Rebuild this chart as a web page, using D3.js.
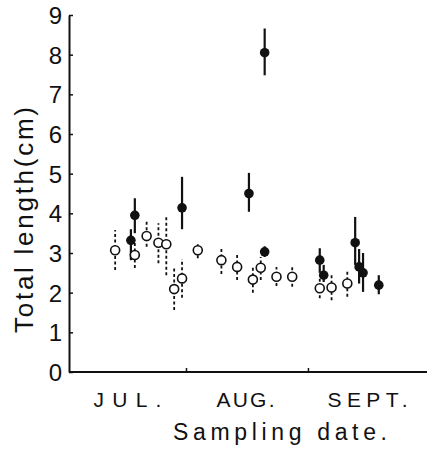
<!DOCTYPE html>
<html>
<head>
<meta charset="utf-8">
<script src="https://cdn.jsdelivr.net/npm/d3@7"></script>
<style>
  body { margin: 0; background: #fff; }
  svg { display: block; }
  text { font-family: "Liberation Sans", Arial, sans-serif; fill: #111; }
</style>
</head>
<body>
<script>
// open circles (dashed bars)
const openDates = ["07-14", "07-19", "07-22", "07-25", "07-27", "07-29", "07-31", "08-04", "08-10",
                   "08-14", "08-18", "08-20", "08-24", "08-28", "09-04", "09-07", "09-11"];
const openMean = [3.07, 2.95, 3.43, 3.26, 3.22, 2.09, 2.36, 3.07, 2.82, 2.65, 2.33, 2.63, 2.40, 2.40, 2.11, 2.13, 2.23];
const openLow  = [2.57, 2.62, 3.16, 2.74, 2.44, 1.56, 1.87, 2.87, 2.47, 2.32, 2.00, 2.32, 2.17, 2.15, 1.86, 1.81, 1.90];
const openHigh = [3.58, 3.25, 3.79, 3.75, 3.91, 2.62, 2.85, 3.28, 3.12, 2.95, 2.65, 2.90, 2.65, 2.65, 2.35, 2.47, 2.57];

// filled circles (solid bars)
const filledDates = ["07-18", "07-19", "07-31", "08-17", "08-21", "08-21", "09-04", "09-05", "09-13", "09-14", "09-15", "09-19"];
const filledMean = [3.32, 3.95, 4.14, 4.50, 8.05, 3.03, 2.82, 2.44, 3.26, 2.65, 2.50, 2.19];
const filledLow  = [2.82, 3.50, 3.60, 4.04, 7.48, 2.90, 2.50, 2.27, 2.70, 2.23, 2.02, 1.96];
const filledHigh = [3.60, 4.38, 4.92, 5.02, 8.66, 3.17, 3.12, 2.70, 3.91, 3.10, 3.00, 2.44];

const monthStarts = ["08-01", "09-01"];
const monthMids = ["07-17", "08-16", "09-16"];
const monthNames = ["JUL.", "AUG.", "SEPT."];
const monthWidths = [68, 58, 80];
const yTicks = [0, 1, 2, 3, 4, 5, 6, 7, 8, 9];

const width = 433, height = 455;
const parse = d3.timeParse("%m-%d");

const x = d3.scaleTime()
    .domain([parse("07-01"), parse("10-01")])
    .range([64, 426]);
const y = d3.scaleLinear()
    .domain([0, 9])
    .range([372, 15]);

const axisX = 69;

const svg = d3.select("body").append("svg")
    .attr("width", width)
    .attr("height", height);

// y axis
const gy = svg.append("g")
    .attr("transform", "translate(" + axisX + ",0)")
    .call(d3.axisLeft(y).tickValues(yTicks).tickSizeInner(-4).tickSizeOuter(0).tickPadding(7));
gy.select(".domain").attr("stroke", "#111").attr("stroke-width", 2);
gy.selectAll(".tick line").attr("stroke", "#111").attr("stroke-width", 1.5);
gy.selectAll(".tick text")
    .style("font-size", "24px")
    .attr("dy", "0.36em");

// x axis line + month-start ticks
svg.append("line")
    .attr("x1", axisX).attr("x2", 427)
    .attr("y1", y(0)).attr("y2", y(0))
    .attr("stroke", "#111").attr("stroke-width", 2);

const gx = svg.append("g")
    .attr("transform", "translate(0," + y(0) + ")")
    .call(d3.axisBottom(x).tickValues(monthStarts.map(parse)).tickSizeInner(-4).tickSizeOuter(0).tickFormat(""));
gx.select(".domain").remove();
gx.selectAll(".tick line").attr("stroke", "#111").attr("stroke-width", 1.5);

// month labels
const gm = svg.append("g")
    .attr("transform", "translate(0," + y(0) + ")")
    .call(d3.axisBottom(x).tickValues(monthMids.map(parse)).tickSize(0).tickPadding(20)
        .tickFormat(function(d, i) { return monthNames[i]; }));
gm.select(".domain").remove();
gm.selectAll(".tick text")
    .style("font-size", "21px")
    .attr("textLength", function(d, i) { return monthWidths[i]; })
    .attr("lengthAdjust", "spacing");

// axis titles
svg.append("text")
    .attr("x", 280).attr("y", 440)
    .attr("text-anchor", "middle")
    .style("font-size", "23px")
    .attr("textLength", 214)
    .attr("lengthAdjust", "spacing")
    .text("Sampling date.");

svg.append("text")
    .attr("transform", "translate(33,220) rotate(-90)")
    .attr("text-anchor", "middle")
    .style("font-size", "26px")
    .attr("textLength", 226)
    .attr("lengthAdjust", "spacing")
    .text("Total length(cm)");

// build rows
const openData = openDates.map(function(d, i) {
    return {date: parse(d), mean: openMean[i], lo: openLow[i], hi: openHigh[i]};
});
const filledData = filledDates.map(function(d, i) {
    return {date: parse(d), mean: filledMean[i], lo: filledLow[i], hi: filledHigh[i]};
});

// error bars
svg.append("g").selectAll("line")
    .data(openData)
    .enter().append("line")
    .attr("x1", function(d) { return x(d.date); })
    .attr("x2", function(d) { return x(d.date); })
    .attr("y1", function(d) { return y(d.lo); })
    .attr("y2", function(d) { return y(d.hi); })
    .attr("stroke", "#111")
    .attr("stroke-width", 1.8)
    .attr("stroke-dasharray", "3,2.5");

svg.append("g").selectAll("line")
    .data(filledData)
    .enter().append("line")
    .attr("x1", function(d) { return x(d.date); })
    .attr("x2", function(d) { return x(d.date); })
    .attr("y1", function(d) { return y(d.lo); })
    .attr("y2", function(d) { return y(d.hi); })
    .attr("stroke", "#111")
    .attr("stroke-width", 2.2);

// points
svg.append("g").selectAll("circle")
    .data(openData)
    .enter().append("circle")
    .attr("cx", function(d) { return x(d.date); })
    .attr("cy", function(d) { return y(d.mean); })
    .attr("r", 4.5)
    .attr("fill", "#fff")
    .attr("stroke", "#111")
    .attr("stroke-width", 1.6);

svg.append("g").selectAll("circle")
    .data(filledData)
    .enter().append("circle")
    .attr("cx", function(d) { return x(d.date); })
    .attr("cy", function(d) { return y(d.mean); })
    .attr("r", 4.8)
    .attr("fill", "#111");
</script>
</body>
</html>
